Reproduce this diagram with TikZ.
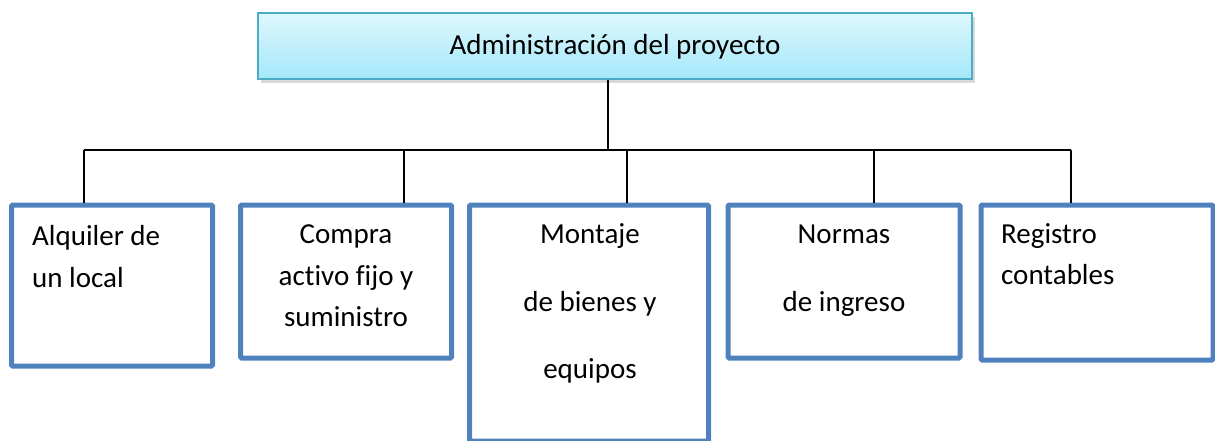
\documentclass[tikz,border=0pt]{standalone}
\usepackage{fontspec}
\setmainfont{Carlito}[Ligatures=NoCommon]
\usetikzlibrary{shadows}
\definecolor{boxblue}{RGB}{79,129,189}
\definecolor{topborder}{RGB}{75,172,198}
\definecolor{toptop}{RGB}{222,247,253}
\definecolor{topbot}{RGB}{164,232,250}
\tikzset{
  childbox/.style={draw=boxblue, line width=5pt, rounded corners=1.2pt, inner sep=0pt},
  topbox/.style={draw=topborder, line width=2pt, top color=toptop, bottom color=topbot,
    inner sep=0pt, minimum width=714pt, minimum height=66pt,
    drop shadow={opacity=0.3, shadow xshift=3pt, shadow yshift=-4pt}},
  conn/.style={draw=black, line width=1.4pt},
  lbl/.style={font=\fontsize{29}{35}\selectfont, inner sep=0pt},
}
\begin{document}
\begin{tikzpicture}[x=1pt,y=-1pt]
\useasboundingbox (0,0) rectangle (1215,441);
% top box
\node[topbox] (top) at (615,46) {};
\node[lbl, anchor=base] (toptext) at (615,55) {Administración del proyecto};
% child boxes
\node[childbox, minimum width=201pt, minimum height=161pt] (b1) at (112,285.5) {};
\node[childbox, minimum width=211pt, minimum height=153pt] (b2) at (346,281.5) {};
\node[childbox, minimum width=239pt, minimum height=236pt] (b3) at (589,323) {};
\node[childbox, minimum width=232pt, minimum height=153pt] (b4) at (844,281.5) {};
\node[childbox, minimum width=232pt, minimum height=155pt] (b5) at (1097,282.5) {};
% connectors
\coordinate (hub) at (608,150);
\coordinate (d1) at (84,150);
\coordinate (d2) at (404,150);
\coordinate (d3) at (627,150);
\coordinate (d4) at (874,150);
\coordinate (d5) at (1071,150);
\draw[conn] (top.south -| hub) -- (hub);
\draw[conn] (d1) -- (d5);
\draw[conn] (d1) -- (d1 |- b1.north);
\draw[conn] (d2) -- (d2 |- b2.north);
\draw[conn] (d3) -- (d3 |- b3.north);
\draw[conn] (d4) -- (d4 |- b4.north);
\draw[conn] (d5) -- (d5 |- b5.north);
% labels
\node[lbl, anchor=base west] (t1a) at (32,245) {Alquiler de};
\node[lbl, anchor=base west] (t1b) at (32,287) {un local};
\node[lbl, anchor=base] (t2a) at (346,243) {Compra};
\node[lbl, anchor=base] (t2b) at (346,285) {activo fijo y};
\node[lbl, anchor=base] (t2c) at (346,326) {suministro};
\node[lbl, anchor=base] (t3a) at (590,243) {Montaje};
\node[lbl, anchor=base] (t3b) at (590,311) {de bienes y};
\node[lbl, anchor=base] (t3c) at (590,378) {equipos};
\node[lbl, anchor=base] (t4a) at (844,243) {Normas};
\node[lbl, anchor=base] (t4b) at (844,311) {de ingreso};
\node[lbl, anchor=base west] (t5a) at (1001,243) {Registro};
\node[lbl, anchor=base west] (t5b) at (1001,284) {contables};
\end{tikzpicture}
\end{document}
